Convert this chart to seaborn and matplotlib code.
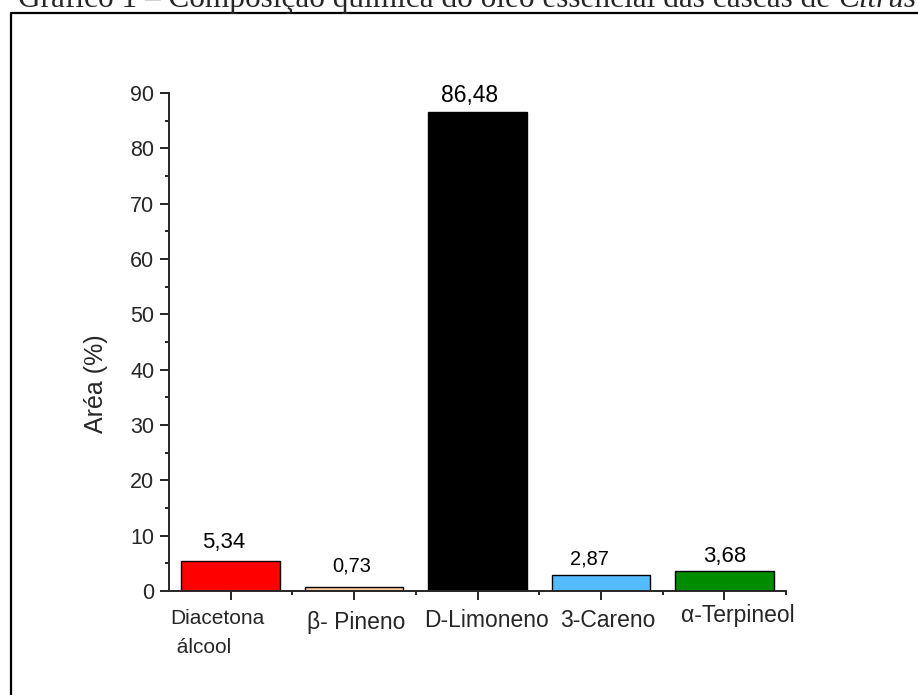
import matplotlib
matplotlib.use('Agg')
import matplotlib.pyplot as plt
import seaborn as sns
import pandas as pd
from matplotlib.ticker import MultipleLocator, FixedLocator
from matplotlib.transforms import ScaledTranslation
from matplotlib.lines import Line2D

# dados
compostos = ['Diacetona\n álcool', 'β- Pineno', 'D-Limoneno', '3-Careno', 'α-Terpineol']
area = [5.34, 0.73, 86.48, 2.87, 3.68]
rotulos = ['5,34', '0,73', '86,48', '2,87', '3,68']
cores = ['#ff0000', '#ffcc99', '#000000', '#55bbff', '#008c00']

sns.set_theme(style='ticks')
plt.rcParams['font.family'] = ['Liberation Sans', 'DejaVu Sans']

df = pd.DataFrame({'composto': compostos, 'area': area})

W, H = 918, 695
fig = plt.figure(figsize=(W / 100, H / 100), dpi=100)
ax = fig.add_axes([169 / W, 1 - 591 / H, 617 / W, 498 / H])

sns.barplot(data=df, x='composto', y='area', hue='composto', palette=cores,
            order=compostos, width=0.8, edgecolor='black', linewidth=1,
            saturation=1, legend=False, ax=ax)

ax.set_xlim(-0.5, 4.5)
ax.set_ylim(0, 90)
ax.yaxis.set_major_locator(MultipleLocator(10))
ax.yaxis.set_minor_locator(MultipleLocator(5))
ax.xaxis.set_minor_locator(FixedLocator([0.5, 1.5, 2.5, 3.5, 4.5]))

for s in ['top', 'right']:
    ax.spines[s].set_visible(False)
for s in ['left', 'bottom']:
    ax.spines[s].set_linewidth(1.4)
ax.tick_params(which='major', length=6.5, width=1.4, direction='out', labelsize=15.5, pad=4)
ax.tick_params(which='minor', length=3.2, width=1.4, direction='out')
ax.tick_params(axis='x', which='major', pad=2)

ax.set_xlabel('')
ax.set_ylabel('Aréa (%)', fontsize=18)
ax.yaxis.set_label_coords(-0.099, 0.416)

# rótulos do eixo x com tamanhos e deslocamentos individuais (px)
tam = [15, 16.5, 16.5, 16.5, 16.5]
dx = [-60, 2, 9, 7, 14]
dy = [-6, -8, -6, -6, -1]
ax.set_xticks(range(len(compostos)))
ax.set_xticklabels(compostos)
for lab, t, ox, oy in zip(ax.get_xticklabels(), tam, dx, dy):
    lab.set_fontsize(t)
    if ox < -30:
        lab.set_ha('left')
        lab.set_multialignment('left')
        lab.set_linespacing(1.65)
    lab.set_transform(lab.get_transform() +
                      ScaledTranslation(ox / 100, oy / 100, fig.dpi_scale_trans))

# valores sobre as barras
tam_v = [16, 14.4, 16.5, 14.4, 16]
off_x = [-7, -2, -8, -11, 0]
off_y = [13, 15, 10, 11, 9]
for i, (v, r) in enumerate(zip(area, rotulos)):
    ax.annotate(r, (i, v), xytext=(off_x[i] * 0.72, off_y[i] * 0.72),
                textcoords='offset points', ha='center', va='baseline',
                fontsize=tam_v[i], color='black')

# moldura do documento
fig.add_artist(Line2D([11 / W, 11 / W, 1.01], [-0.01, 1 - 13 / H, 1 - 13 / H],
                      transform=fig.transFigure, color='black', linewidth=1.6))

# título (cortado no topo, como na imagem)
serif = ['Liberation Serif', 'DejaVu Serif']
t1 = fig.text(18 / W, 1 - 7 / H, 'Gráfico 1 – Composição química do óleo essencial das cascas de ',
              family=serif, fontsize=20, va='baseline', ha='left')
t2 = fig.text(0, 1 - 7 / H, 'Citrus', family=serif, style='italic', fontsize=20,
              va='baseline', ha='left')
fig.canvas.draw()
r = fig.canvas.get_renderer()
w1 = t1.get_window_extent(r).width
w2 = t2.get_window_extent(r).width
k = (915 - 18) / (w1 + w2)
t1.set_fontsize(20 * k)
t2.set_fontsize(20 * k)
fig.canvas.draw()
w1 = t1.get_window_extent(r).width
t2.set_x((18 + w1) / W)

fig.savefig('out.png', dpi=100)
